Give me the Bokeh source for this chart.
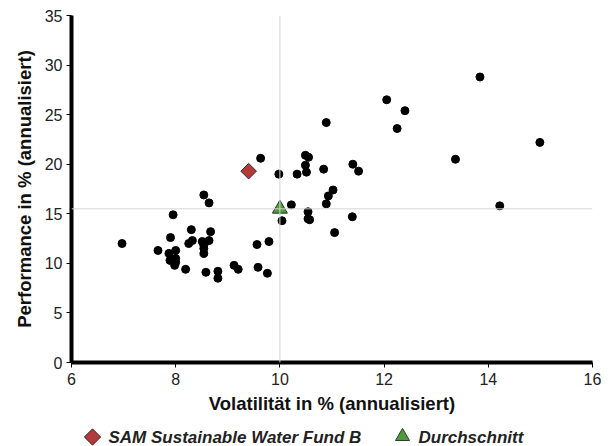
import math
from bokeh.plotting import figure
from bokeh.layouts import column
from bokeh.models import Span, FixedTicker, Range1d
from bokeh.core.properties import value
from bokeh.embed import file_html
from bokeh.resources import INLINE

# Peer funds: volatility (x) and performance (y), % annualised
peer_vol = [6.97, 7.66, 7.87, 7.90, 7.95, 8.00, 7.89, 8.00, 8.00, 7.98,
            8.19, 8.25, 8.32, 8.30, 8.51, 8.54, 8.54, 8.54, 8.64, 8.67,
            8.54, 8.64, 8.58, 8.81, 8.81, 9.12, 9.20, 9.56, 9.79, 9.58,
            9.76, 9.63, 9.98, 10.04, 10.22, 10.33, 10.49, 10.55, 10.49, 10.51,
            10.54, 10.54, 10.57, 10.84, 10.89, 10.89, 10.93, 11.02, 11.05, 11.39,
            11.40, 11.51, 12.05, 12.25, 12.40, 13.37, 13.84, 14.22, 14.99]
peer_perf = [12.0, 11.3, 11.0, 12.6, 14.9, 11.3, 10.3, 10.5, 10.1, 9.8,
             9.4, 12.0, 12.3, 13.4, 12.2, 11.8, 11.5, 11.0, 12.3, 13.2,
             16.9, 16.1, 9.1, 9.2, 8.5, 9.8, 9.4, 11.9, 12.2, 9.6,
             9.0, 20.6, 19.0, 14.3, 15.9, 19.0, 20.9, 20.7, 19.9, 19.2,
             15.2, 14.5, 14.4, 19.5, 24.2, 16.0, 16.8, 17.4, 13.1, 14.7,
             20.0, 19.3, 26.5, 23.6, 25.4, 20.5, 28.8, 15.8, 22.2]

fund_name = "SAM Sustainable Water Fund B"
fund_vol = [9.40]
fund_perf = [19.3]

avg_name = "Durchschnitt"
avg_vol = [10.0]
avg_perf = [15.5]

x_ticks = [6, 8, 10, 12, 14, 16]
y_ticks = [0, 5, 10, 15, 20, 25, 30, 35]
x_title = "Volatilität in % (annualisiert)"
y_title = "Performance in % (annualisiert)"

FONT = "Liberation Sans"
FUND_FILL, FUND_LINE = "#b23a3a", "#3a2626"
AVG_FILL, AVG_LINE = "#4f9a3a", "#263a26"

BL, BR, W = 71, 22, 614

p = figure(width=W, height=420, x_range=(6, 16), y_range=(0, 35),
           output_backend="svg", toolbar_location=None,
           min_border_left=BL, min_border_right=BR, min_border_top=15,
           min_border_bottom=58)
p.outline_line_color = None
p.grid.visible = False

p.add_layout(Span(location=avg_vol[0], dimension="height", line_color="#d4d4d4", line_width=1))
p.add_layout(Span(location=avg_perf[0], dimension="width", line_color="#d4d4d4", line_width=1))

p.scatter(peer_vol, peer_perf, size=8, color="black", marker="circle")
p.scatter(fund_vol, fund_perf, marker="square", angle=math.pi / 4, size=11,
          fill_color=FUND_FILL, line_color=FUND_LINE, line_width=1)
p.scatter(avg_vol, avg_perf, marker="triangle", size=15,
          fill_color=AVG_FILL, line_color=AVG_LINE, line_width=1)

for ax in (p.xaxis[0], p.yaxis[0]):
    ax.axis_line_width = 4
    ax.axis_line_color = "black"
    ax.major_tick_line_color = "black"
    ax.major_tick_in = 0
    ax.major_tick_out = 5
    ax.minor_tick_line_color = None
    ax.major_label_text_font = FONT
    ax.major_label_text_font_size = "16px"
    ax.major_label_text_color = "#222222"
    ax.axis_label_text_font = FONT
    ax.axis_label_text_font_size = "18.5px"
    ax.axis_label_text_font_style = "bold"
    ax.axis_label_text_color = "#111111"

p.xaxis.ticker = FixedTicker(ticks=x_ticks)
p.yaxis.ticker = FixedTicker(ticks=y_ticks)
p.xaxis.axis_label = x_title
p.yaxis.axis_label = y_title
p.xaxis.major_label_standoff = 5
p.yaxis.major_label_standoff = 4
p.xaxis.axis_label_standoff = 5
p.yaxis.axis_label_standoff = 7

# Legend strip below the chart; its frame matches the chart's, 1 unit = 1 page px
lg = figure(width=W, height=26, x_range=Range1d(BL, W - BR), y_range=Range1d(0, 26),
            output_backend="svg", toolbar_location=None,
            min_border_left=BL, min_border_right=BR,
            min_border_top=0, min_border_bottom=0)
lg.axis.visible = False
lg.grid.visible = False
lg.outline_line_color = None

legend_names = [fund_name, avg_name]
legend_marker_x = [92, 402]
legend_text_x = [108, 418]
legend_y = [9.5, 9.5]

lg.scatter([legend_marker_x[0]], [legend_y[0]], marker="square", angle=math.pi / 4,
           size=11.5, fill_color=FUND_FILL, line_color=FUND_LINE, line_width=1)
lg.scatter([legend_marker_x[1]], [legend_y[1] + 0.5], marker="triangle", size=14,
           fill_color=AVG_FILL, line_color=AVG_LINE, line_width=1)
lg.text(x=legend_text_x, y=legend_y, text=legend_names,
        text_font=value(FONT), text_font_size="17px", text_font_style="bold italic",
        text_color="#222222", text_baseline="middle", text_align="left")

layout = column(p, lg, spacing=0)
open("out.html", "w").write(file_html(layout, INLINE))
